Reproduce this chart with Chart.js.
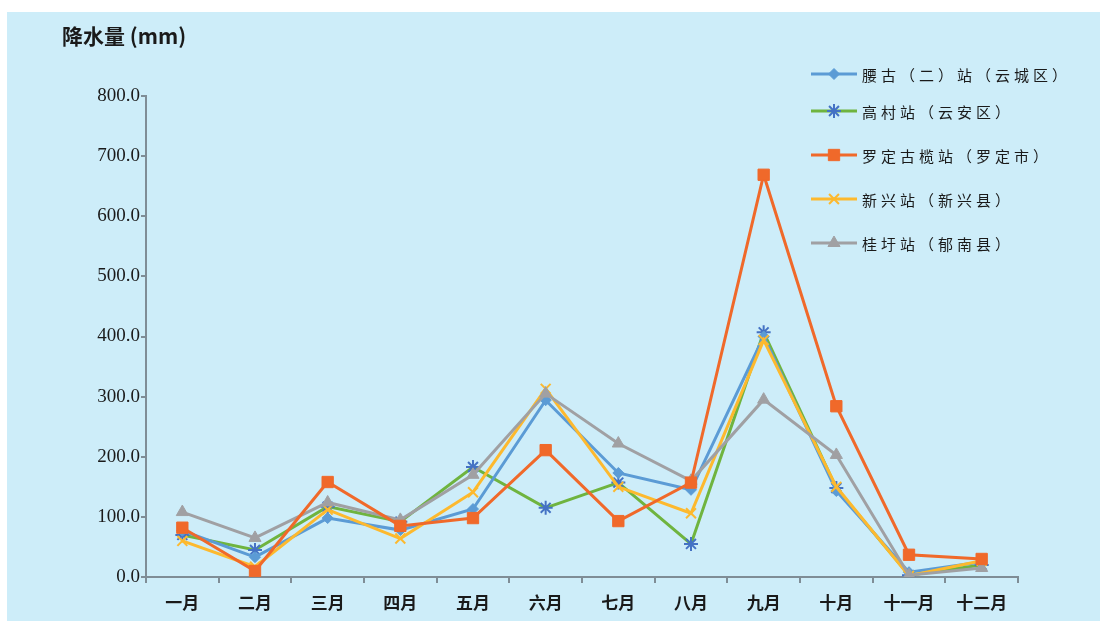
<!DOCTYPE html>
<html>
<head>
<meta charset="utf-8">
<script src="https://cdn.jsdelivr.net/npm/chart.js@4/dist/chart.umd.min.js"></script>
<style>
  html, body { margin: 0; padding: 0; background: #ffffff; }
  #wrap { position: relative; width: 1110px; height: 623px; }
  #panel { position: absolute; left: 7px; top: 12px; width: 1093px; height: 609px; background: #cdedf9; }
  canvas { position: absolute; left: 0; top: 0; }
</style>
</head>
<body>
<div id="wrap">
  <div id="panel"></div>
  <canvas id="c" width="1110" height="623"></canvas>
</div>
<script>
// Monthly rainfall (mm) at five stations
const months = ['一月', '二月', '三月', '四月', '五月', '六月', '七月', '八月', '九月', '十月', '十一月', '十二月'];
const stationNames = ['腰古（二）站（云城区）', '高村站（云安区）', '罗定古榄站（罗定市）', '新兴站（新兴县）', '桂圩站（郁南县）'];
const yaogu    = [77, 33, 98, 78, 113, 294, 173, 145, 400, 143, 8, 25];
const gaocun   = [70, 45, 117, 92, 183, 115, 157, 55, 407, 148, 3, 20];
const luoding  = [82, 10, 158, 85, 98, 211, 93, 157, 669, 284, 37, 30];
const xinxing  = [60, 17, 112, 64, 141, 313, 150, 106, 394, 150, 2, 27];
const guixu    = [108, 65, 124, 95, 170, 305, 222, 160, 295, 203, 3, 15];
const yTicks   = [0, 100, 200, 300, 400, 500, 600, 700, 800];

const series = [
  { data: yaogu,   color: '#5b9bd5', pointColor: '#5b9bd5', style: 'rectRot',  radius: 5.5 },
  { data: gaocun,  color: '#6fb43f', pointColor: '#4472c4', style: 'star',     radius: 7 },
  { data: luoding, color: '#f0692a', pointColor: '#f0692a', style: 'rect',     radius: 8 },
  { data: xinxing, color: '#fdb92e', pointColor: '#fdb92e', style: 'crossRot', radius: 7 },
  { data: guixu,   color: '#a0a0a3', pointColor: '#a0a0a3', style: 'triangle', radius: 7 }
];
const drawOrder = [3, 4, 0, 2, 1];

const datasets = series.map((s, i) => ({
  label: stationNames[i],
  data: s.data,
  borderColor: s.color,
  backgroundColor: s.pointColor,
  pointBorderColor: s.pointColor,
  pointBackgroundColor: s.pointColor,
  pointStyle: s.style,
  pointRadius: s.radius,
  pointBorderWidth: (s.style === 'star' || s.style === 'crossRot') ? 2 : 1,
  borderWidth: 3,
  tension: 0,
  order: drawOrder[i]
}));

// Title text and custom legend
const overlay = {
  id: 'overlay',
  afterDraw(chart) {
    const ctx = chart.ctx;
    ctx.save();
    ctx.fillStyle = '#1a1a1a';
    ctx.font = 'bold 21px "Noto Sans CJK SC"';
    ctx.textBaseline = 'middle';
    ctx.textAlign = 'left';
    ctx.fillText('降水量 (mm)', 62, 36);

    const rows = [74, 111, 155, 199, 243];
    ctx.font = '15px "Noto Sans CJK SC"';
    if ('letterSpacing' in ctx) ctx.letterSpacing = '4px';
    chart.data.datasets.forEach((ds, i) => {
      const y = rows[i];
      ctx.strokeStyle = ds.borderColor;
      ctx.lineWidth = 3;
      ctx.beginPath();
      ctx.moveTo(811, y);
      ctx.lineTo(857, y);
      ctx.stroke();
      ctx.fillStyle = ds.pointBackgroundColor;
      ctx.strokeStyle = ds.pointBorderColor;
      ctx.lineWidth = ds.pointBorderWidth;
      ctx.beginPath();
      Chart.helpers.drawPoint(ctx, {
        pointStyle: ds.pointStyle,
        radius: ds.pointRadius,
        rotation: 0,
        borderWidth: ds.pointBorderWidth
      }, 834, y);
      ctx.fillStyle = '#1a1a1a';
      ctx.fillText(ds.label, 862, y + 1);
    });
    ctx.restore();
  }
};

new Chart(document.getElementById('c'), {
  type: 'line',
  data: { labels: months, datasets },
  options: {
    responsive: false,
    animation: false,
    events: [],
    layout: { padding: { left: 0, top: 96, right: 92, bottom: 0 } },
    plugins: { legend: { display: false }, tooltip: { enabled: false } },
    scales: {
      x: {
        offset: true,
        grid: { offset: true, drawOnChartArea: false, drawTicks: true, tickLength: 6, color: '#7f8d96', lineWidth: 2 },
        border: { color: '#7f8d96', width: 2 },
        ticks: { color: '#1a1a1a', font: { family: '"Noto Sans CJK SC"', size: 17, weight: 'bold' }, padding: 9, maxRotation: 0, autoSkip: false },
        afterFit(scale) { scale.height = 46; }
      },
      y: {
        min: 0,
        max: 800,
        afterBuildTicks(scale) { scale.ticks = yTicks.map(v => ({ value: v })); },
        grid: { drawOnChartArea: false, drawTicks: true, tickLength: 5, color: '#7f8d96', lineWidth: 2 },
        border: { color: '#7f8d96', width: 2 },
        ticks: {
          color: '#1a1a1a',
          font: { family: '"Liberation Serif"', size: 19 },
          padding: 1,
          callback: v => Number(v).toFixed(1)
        },
        afterFit(scale) { scale.width = 146; }
      }
    }
  },
  plugins: [overlay]
});
</script>
</body>
</html>
